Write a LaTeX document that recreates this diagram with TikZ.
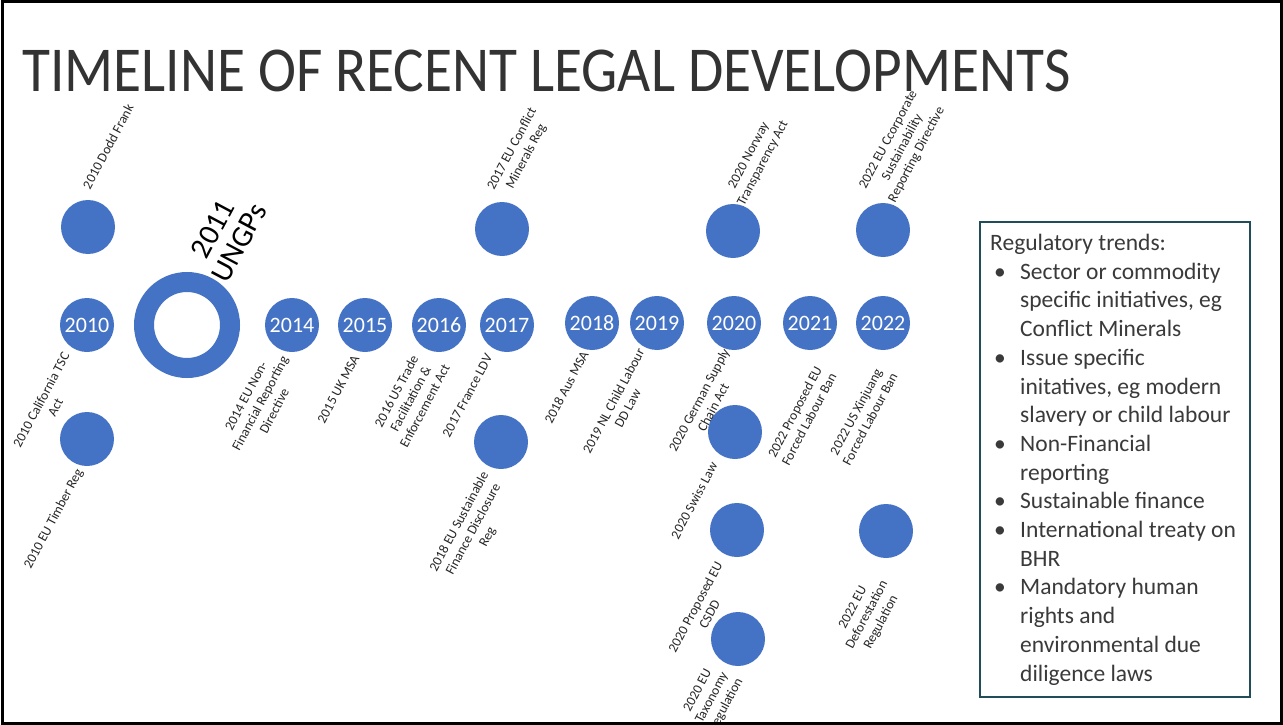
\documentclass[tikz,border=0pt]{standalone}
\usepackage{fontspec}
\setmainfont{Carlito}
\usetikzlibrary{positioning, calc}
\definecolor{officeblue}{HTML}{4472C4}
\definecolor{boxteal}{HTML}{1F4E5A}
\definecolor{titlegray}{HTML}{333333}
\definecolor{textgray}{HTML}{3A3A3A}
\tikzset{
    year/.style={circle, fill=officeblue, minimum size=54pt, inner sep=0pt, text=white, font=\fontsize{22}{22}\selectfont},
    blob/.style={circle, fill=officeblue, minimum size=54pt, inner sep=0pt},
    law/.style={rotate=62, align=center, inner sep=0pt, text=black!85, font=\fontsize{13.5}{16}\selectfont},
    law below/.style={law, anchor=east},
    law above/.style={law, anchor=west}
}
\newcommand{\tbul}{\makebox[30pt][l]{\hspace{4pt}\textbullet}}
\newcommand{\tind}{\hspace*{30pt}}

\begin{document}
\begin{tikzpicture}[x=1pt, y=-1pt]
    \useasboundingbox (0,0) rectangle (1283,725);
    \fill[white] (0,0) rectangle (1283,725);
    \begin{scope}
    \clip (3,3) rectangle (1280,722);
    % Title
    \node[anchor=base west, inner sep=0pt, text=titlegray, font=\fontsize{64}{64}\selectfont] (title) at (22,92) {\scalebox{0.896}[1]{TIMELINE OF RECENT LEGAL DEVELOPMENTS}};
    % Main row of years
    \node[year] (y2010) at (87,325) {2010};
    \node[circle, draw=officeblue, line width=20pt, minimum size=86pt, inner sep=0pt] (ungps) at (187,325) {};
    \node[year] (y2014) at (292,325) {2014};
    \node[year] (y2015) at (365,325) {2015};
    \node[year] (y2016) at (439,325) {2016};
    \node[year] (y2017) at (507,325) {2017};
    \node[year] (y2018) at (592,323) {2018};
    \node[year] (y2019) at (657,323) {2019};
    \node[year] (y2020) at (734,323) {2020};
    \node[year] (y2021) at (810,323) {2021};
    \node[year] (y2022) at (883,323) {2022};
    % Extra circles above and below
    \node[blob] (dodd) at (88,227) {};
    \node[blob] (timber) at (87,439) {};
    \node[blob] (conflict) at (502,229) {};
    \node[blob] (sfdr) at (501,442) {};
    \node[blob] (norway) at (733,231) {};
    \node[blob] (swiss) at (735,432) {};
    \node[blob] (csdd) at (737,530) {};
    \node[blob] (taxonomy) at (738,639) {};
    \node[blob] (csrd) at (883,230) {};
    \node[blob] (deforest) at (886,531) {};
    % UNGPs
    \node[rotate=62, align=center, inner sep=0pt, font=\fontsize{30}{30}\selectfont] (ungpstxt) at (226,236) {2011\\UNGPs};
    % Labels above
    \node[law above] (ldodd) at (86,188) {2010 Dodd Frank};
    \node[law above] (lconflict) at (498,193) {2017 EU Conflict\\Minerals Reg};
    \node[law above] (lnorway) at (734,201) {2020 Norway\\Transparency Act};
    \node[law above] (lcsrd) at (877,196) {2022 EU Ccorporate\\Sustainability\\Reporting Directive};
    % Labels below
    \node[law below] (lcal) at (73,357) {2010 California TSC\\Act};
    \node[law below] (ltimber) at (80,470) {2010 EU Timber Reg};
    \node[law below] (lnfrd) at (285,357) {2014 EU Non-\\Financial Reporting\\Directive};
    \node[law below] (lukmsa) at (356,356) {2015 UK MSA};
    \node[law below] (ltrade) at (432,358) {2016 US Trade\\Facilitation \&\\Enforcement Act};
    \node[law below] (lldv) at (489,355) {2017 France LDV};
    \node[law below] (lsfdr) at (500,480) {2018 EU Sustainable\\Finance Disclosure\\Reg};
    \node[law below] (lausmsa) at (585,352) {2018 Aus MSA};
    \node[law below] (lnl) at (648,353) {2019 NL Child Labour\\DD Law};
    \node[law below] (lgerman) at (733,353) {2020 German Supply\\Chain Act};
    \node[law below] (leuban) at (826,370) {2022 Proposed EU\\Forced Labour Ban};
    \node[law below] (lusban) at (887,370) {2022 US Xinjuang\\Forced Labour Ban};
    \node[law below] (lswiss) at (714,463) {2020 Swiss Law};
    \node[law below] (lcsdd) at (726,566) {2020 Proposed EU\\CSDD};
    \node[law below] (ltax) at (726,672) {2020 EU\\Taxonomy\\Regulation};
    \node[law below] (ldefor) at (885,582) {2022 EU\\Deforestation\\Regulation};
    % Regulatory trends box
    \draw[boxteal, line width=1.6pt] (980,222) rectangle (1250,697);
    \node[anchor=north west, inner sep=0pt, align=left, text=textgray, font=\fontsize{23.5}{28.7}\selectfont] (trends) at (990,234) {Regulatory trends:\\
        \tbul Sector or commodity\\ \tind specific initiatives, eg\\ \tind Conflict Minerals\\
        \tbul Issue specific\\ \tind initatives, eg modern\\ \tind slavery or child labour\\
        \tbul Non-Financial\\ \tind reporting\\
        \tbul Sustainable finance\\
        \tbul International treaty on\\ \tind BHR\\
        \tbul Mandatory human\\ \tind rights and\\ \tind environmental due\\ \tind diligence laws};
    \end{scope}
    % Slide frame
    \draw[line width=3pt] (2,2) rectangle (1281,723);
\end{tikzpicture}
\end{document}
